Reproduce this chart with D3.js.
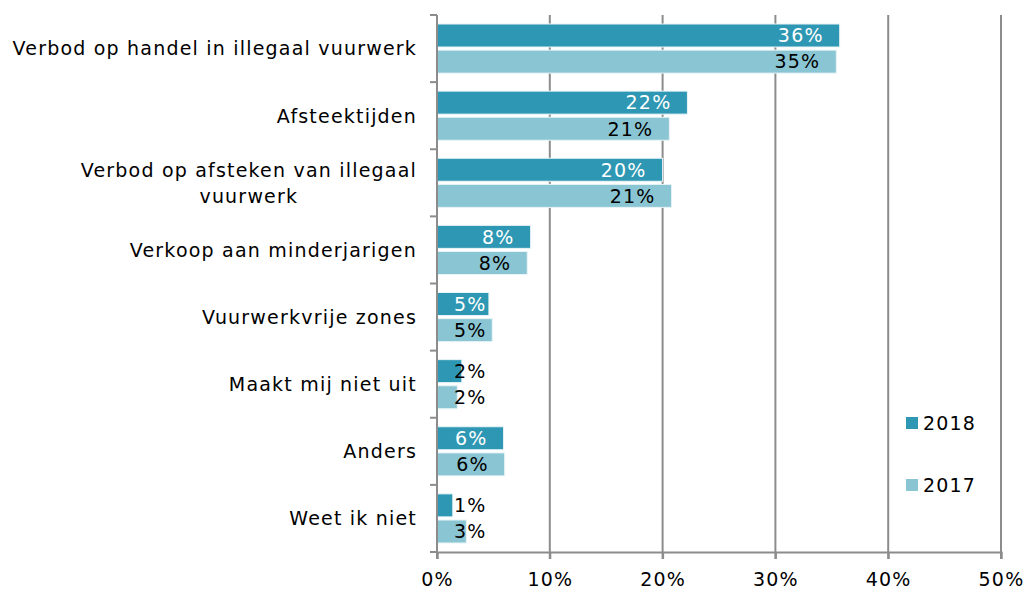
<!DOCTYPE html>
<html>
<head>
<meta charset="utf-8">
<script src="https://cdn.jsdelivr.net/npm/d3@7"></script>
<style>
  body { margin: 0; background: #fff; }
  text { font-family: "DejaVu Sans", Verdana, sans-serif; letter-spacing: 1.2px; }
</style>
</head>
<body>
<div id="chart"></div>
<script>
// categories, top to bottom
var categories = [
  "Verbod op handel in illegaal vuurwerk",
  "Afsteektijden",
  "Verbod op afsteken van illegaal|vuurwerk",
  "Verkoop aan minderjarigen",
  "Vuurwerkvrije zones",
  "Maakt mij niet uit",
  "Anders",
  "Weet ik niet"
];
var series = ["2018", "2017"];
var values2018 = [35.7, 22.2, 20.0, 8.3, 4.6, 2.2, 5.9, 1.4];
var values2017 = [35.4, 20.6, 20.8, 8.0, 4.9, 1.8, 6.0, 2.6];
var xTicks = [0, 10, 20, 30, 40, 50];
var colors = {"2018": "#2e97b3", "2017": "#8ac5d3"};

var width = 1029, height = 590;
var plotLeft = 437, plotRight = 1001, plotTop = 15, plotBottom = 552;

var svg = d3.select("#chart").append("svg")
    .attr("width", width)
    .attr("height", height);

var x = d3.scaleLinear().domain([0, 50]).range([plotLeft, plotRight]);
var y = d3.scaleBand().domain(d3.range(categories.length)).range([plotTop, plotBottom]);
var bw = y.bandwidth();
var ySub = d3.scaleBand().domain(series).range([9, bw - 9]).paddingInner(0.12);

var grey = "#8c8c8c";

// gridlines
svg.append("g").selectAll("line")
    .data(xTicks.slice(1))
  .enter().append("line")
    .attr("x1", function(d) { return x(d); })
    .attr("x2", function(d) { return x(d); })
    .attr("y1", plotTop)
    .attr("y2", plotBottom + 7)
    .attr("stroke", grey)
    .attr("stroke-width", 2);

// rows of data
var rows = categories.map(function(c, i) {
  return {cat: c, i: i, vals: [
    {s: "2018", v: values2018[i]},
    {s: "2017", v: values2017[i]}
  ]};
});

var row = svg.selectAll(".row")
    .data(rows)
  .enter().append("g")
    .attr("class", "row")
    .attr("transform", function(d) { return "translate(0," + y(d.i) + ")"; });

row.selectAll("rect")
    .data(function(d) { return d.vals; })
  .enter().append("rect")
    .attr("x", x(0))
    .attr("y", function(d) { return ySub(d.s); })
    .attr("width", function(d) { return x(d.v) - x(0); })
    .attr("height", ySub.bandwidth())
    .attr("fill", function(d) { return colors[d.s]; })
    .attr("stroke", "#e8f4f7")
    .attr("stroke-width", 1);

// value labels (inside end, pushed out when the bar is too short)
row.selectAll("text.val")
    .data(function(d) { return d.vals; })
  .enter().append("text")
    .attr("class", "val")
    .attr("y", function(d) { return ySub(d.s) + ySub.bandwidth() / 2; })
    .attr("dy", "0.36em")
    .attr("text-anchor", "end")
    .style("font-size", "19px")
    .text(function(d) { return Math.round(d.v) + "%"; })
    .each(function(d) {
      var w = this.getComputedTextLength();
      var end = Math.max(x(d.v) - 16, x(0) + 17 + w);
      var inside = end <= x(d.v) + 1;
      d3.select(this)
        .attr("x", end)
        .attr("fill", d.s === "2018" && inside ? "#ffffff" : "#000000");
    });

// category labels
row.each(function(d) {
  var lines = d.cat.split("|");
  var t = d3.select(this).append("text")
      .attr("fill", "#000")
      .style("font-size", "19px");
  if (lines.length === 1) {
    t.attr("x", plotLeft - 20)
      .attr("y", bw / 2)
      .attr("dy", "0.36em")
      .attr("text-anchor", "end")
      .text(lines[0]);
  } else {
    // measure first line, center the lines under each other
    t.text(lines[0]);
    var w = t.node().getComputedTextLength();
    t.text(null);
    var cx = plotLeft - 20 - w / 2;
    t.attr("text-anchor", "middle");
    lines.forEach(function(l, k) {
      t.append("tspan")
        .attr("x", cx)
        .attr("y", bw / 2 + (k - (lines.length - 1) / 2) * 26)
        .attr("dy", "0.36em")
        .text(l);
    });
  }
});

// y axis line with category ticks
svg.append("line")
    .attr("x1", plotLeft).attr("x2", plotLeft)
    .attr("y1", plotTop).attr("y2", plotBottom + 7)
    .attr("stroke", grey).attr("stroke-width", 2);

svg.append("g").selectAll("line")
    .data(d3.range(categories.length + 1))
  .enter().append("line")
    .attr("x1", plotLeft - 7).attr("x2", plotLeft)
    .attr("y1", function(d) { return plotTop + d * bw; })
    .attr("y2", function(d) { return plotTop + d * bw; })
    .attr("stroke", grey).attr("stroke-width", 2);

// x axis
var xAxis = svg.append("g")
    .attr("transform", "translate(0," + plotBottom + ")")
    .call(d3.axisBottom(x).tickValues(xTicks).tickSize(7).tickPadding(14)
      .tickFormat(function(d) { return d + "%"; }));
xAxis.select(".domain").attr("stroke", grey).attr("stroke-width", 2);
xAxis.selectAll(".tick line").attr("stroke", grey).attr("stroke-width", 2);
xAxis.selectAll(".tick text")
    .attr("fill", "#000")
    .style("font-size", "19px")
    .style("font-family", "'DejaVu Sans', Verdana, sans-serif");

// legend
var legend = svg.append("g").selectAll("g")
    .data(series)
  .enter().append("g")
    .attr("transform", function(d, i) { return "translate(906," + (417 + i * 62) + ")"; });

legend.append("rect")
    .attr("width", 12).attr("height", 12)
    .attr("fill", function(d) { return colors[d]; });

legend.append("text")
    .attr("x", 17)
    .attr("y", 6)
    .attr("dy", "0.36em")
    .attr("fill", "#000")
    .style("font-size", "19px")
    .text(function(d) { return d; });
</script>
</body>
</html>
